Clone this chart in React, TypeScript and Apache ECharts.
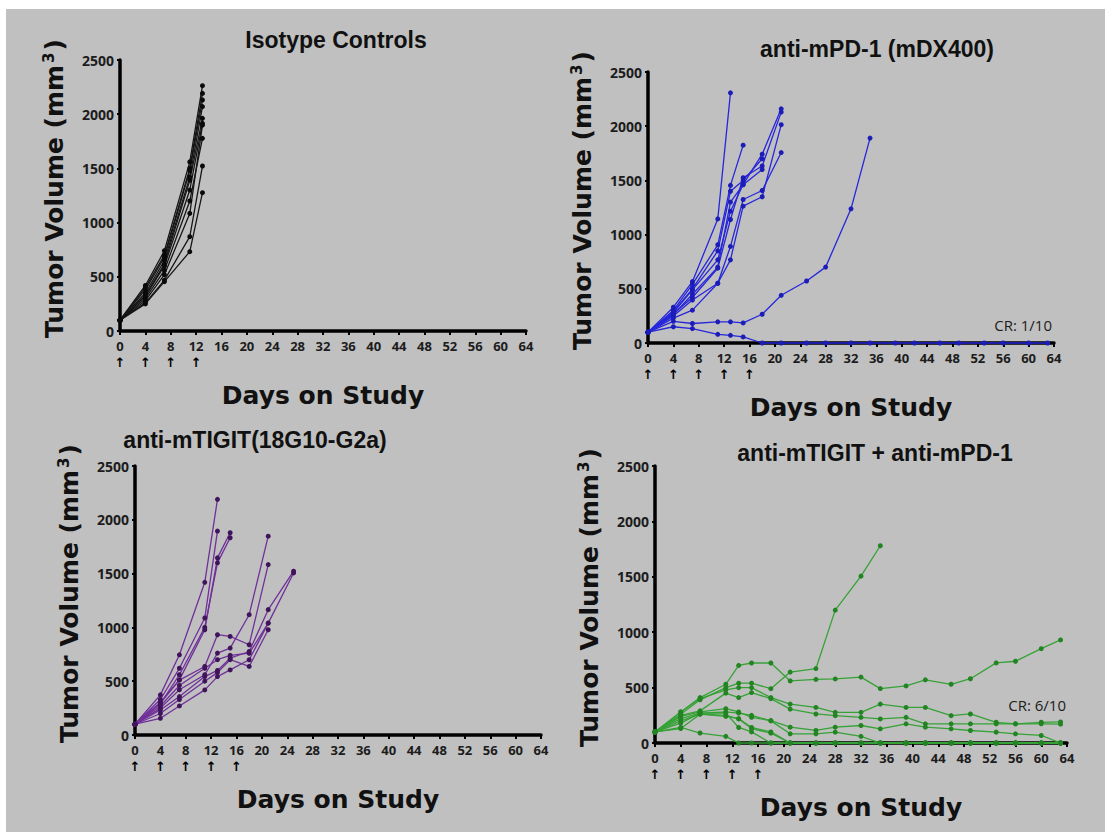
import React, { useEffect, useRef } from "react";
import * as echarts from "echarts";

// ---------- data ----------
const dayTicks = [0, 4, 8, 12, 16, 20, 24, 28, 32, 36, 40, 44, 48, 52, 56, 60, 64];
const volumeTicks = [0, 500, 1000, 1500, 2000, 2500];
const doseDaysIso = [0, 4, 8, 12];
const doseDaysTx = [0, 4, 8, 12, 16];

const isoDays = [0, 4, 7, 11, 13];
const isoMice = [
  [100, 420, 740, 1560, 2263],
  [100, 400, 700, 1500, 2192],
  [100, 380, 680, 1480, 2131],
  [100, 350, 650, 1420, 2070],
  [100, 330, 620, 1390, 1962],
  [100, 320, 600, 1300, 1916],
  [100, 300, 560, 1200, 1777],
  [100, 280, 520, 1085, 1900],
  [100, 260, 470, 870, 1522],
  [100, 250, 455, 732, 1276],
];

const longDays = [0, 4, 7, 11, 13, 15, 18, 21, 25, 28, 32, 35, 39, 42, 46, 49, 53, 56, 60, 63];

const pd1Mice = [
  [100, 330, 566, 1145, 2308],
  [100, 300, 540, 906, 1454, 1825],
  [100, 280, 490, 767, 1216, 1463, 1742, 2160],
  [100, 270, 420, 690, 1139, 1525, 1633, 2130],
  [100, 250, 396, 551, 767, 1262, 1349, 2014],
  [100, 230, 303, 551, 891, 1324, 1407, 1757],
  [100, 290, 500, 850, 1400, 1500, 1700],
  [100, 260, 450, 700, 1300, 1460, 1600],
  [100, 200, 180, 195, 195, 185, 265, 440, 572, 700, 1238, 1890],
  [100, 150, 133, 80, 71, 56, 0, 0, 0, 0, 0, 0, 0, 0, 0, 0, 0, 0, 0, 0],
];

const tigitDays = [0, 4, 7, 11, 13, 15, 18, 21, 25];
const tigitMice = [
  [100, 373, 745, 1419, 2190],
  [100, 330, 620, 1087, 1895],
  [100, 300, 512, 978, 1646, 1880],
  [100, 290, 560, 1000, 1600, 1833],
  [100, 250, 420, 560, 761, 808, 1118, 1848],
  [100, 300, 510, 637, 932, 916, 839, 1584],
  [100, 233, 357, 543, 600, 714, 776, 1165, 1522],
  [100, 155, 270, 419, 543, 605, 699, 1040, 1506],
  [100, 200, 330, 500, 580, 700, 637, 978],
  [100, 270, 460, 620, 700, 740, 760, 1040],
];

const comboMice = [
  [100, 280, 410, 530, 700, 722, 722, 560, 574, 578, 595, 491, 515, 570, 530, 580, 723, 738, 851, 930],
  [100, 260, 390, 500, 540, 540, 490, 640, 672, 1199, 1506, 1780],
  [100, 280, 400, 480, 500, 500, 410, 351, 321, 277, 277, 351, 321, 321, 247, 262, 187, 173, 187, 190],
  [100, 250, 290, 450, 410, 455, 400, 306, 262, 247, 232, 217, 232, 173, 173, 173, 173, 173, 173, 170],
  [100, 240, 280, 310, 280, 232, 202, 143, 113, 143, 158, 128, 173, 143, 128, 113, 98, 83, 68, 0],
  [100, 220, 270, 280, 270, 250, 200, 83, 83, 98, 60, 0, 0, 0, 0, 0, 0, 0, 0, 0],
  [100, 200, 260, 250, 217, 130, 89, 0, 0, 0, 0, 0, 0, 0, 0, 0, 0, 0, 0, 0],
  [100, 180, 270, 270, 140, 100, 0, 0, 0, 0, 0, 0, 0, 0, 0, 0, 0, 0, 0, 0],
  [100, 140, 90, 60, 0, 0, 0, 0, 0, 0, 0, 0, 0, 0, 0, 0, 0, 0, 0, 0],
  [100, 130, 260, 240, 220, 140, 100, 0, 0, 0, 0, 0, 0, 0, 0, 0, 0, 0, 0, 0],
];

const panelTitles = ["Isotype Controls", "anti-mPD-1 (mDX400)", "anti-mTIGIT(18G10-G2a)", "anti-mTIGIT + anti-mPD-1"];
const crLabels = ["", "CR: 1/10", "", "CR: 6/10"];

// ---------- layout / styles ----------
const grids = [
  { left: 120, top: 60, width: 406, height: 271 },
  { left: 648, top: 72, width: 406, height: 271 },
  { left: 135, top: 466, width: 406, height: 269 },
  { left: 655, top: 466, width: 412, height: 277 },
];
const titlePos = [
  [336, 40],
  [877, 49],
  [255, 440],
  [875, 453],
];
const crPos = [null, [1052, 325], null, [1066, 705]];
const colors = [
  { line: "#161616", dot: "#0a0a0a" },
  { line: "#2626dc", dot: "#1c1cb8" },
  { line: "#70309a", dot: "#40145a" },
  { line: "#36a236", dot: "#228422" },
];

function zip(days: number[], vals: number[]) {
  return vals.map((v, i) => [days[i], v]);
}

export default function App() {
  const ref = useRef<HTMLDivElement>(null);
  useEffect(() => {
    if (!ref.current) return;
    const chart = echarts.init(ref.current, undefined, { renderer: "svg" });
    const groups = [
      { days: isoDays, mice: isoMice, doses: doseDaysIso },
      { days: longDays, mice: pd1Mice, doses: doseDaysTx },
      { days: tigitDays, mice: tigitMice, doses: doseDaysTx },
      { days: longDays, mice: comboMice, doses: doseDaysTx },
    ];
    const labelFont = { fontFamily: "Open Sans", fontWeight: "bold" as const, color: "#1c1c1c" };
    const xAxes: any[] = [];
    const yAxes: any[] = [];
    const series: any[] = [];
    groups.forEach((g, i) => {
      xAxes.push({
        type: "value",
        gridIndex: i,
        min: dayTicks[0],
        max: dayTicks[dayTicks.length - 1],
        interval: dayTicks[1] - dayTicks[0],
        name: "Days on Study",
        nameLocation: "middle",
        nameGap: 52,
        nameTextStyle: { fontFamily: "DejaVu Sans", fontWeight: "bold", fontSize: 25, color: "#111" },
        axisLine: { show: true, onZero: false, lineStyle: { color: "#000", width: 3.5 } },
        axisTick: { show: true, length: 4, lineStyle: { color: "#000", width: 2 } },
        axisLabel: { ...labelFont, fontSize: 13, margin: 8, showMinLabel: true, showMaxLabel: true },
        splitLine: { show: false },
      });
      xAxes.push({
        type: "value",
        gridIndex: i,
        min: dayTicks[0],
        max: dayTicks[dayTicks.length - 1],
        interval: dayTicks[1] - dayTicks[0],
        position: "bottom",
        offset: 23,
        axisLine: { show: false },
        axisTick: { show: false },
        splitLine: { show: false },
        axisLabel: {
          fontFamily: "DejaVu Sans",
          fontWeight: "bold",
          fontSize: 13,
          color: "#000",
          margin: 2,
          formatter: (v: number) => (g.doses.includes(v) ? "↑" : ""),
        },
      });
      yAxes.push({
        type: "value",
        gridIndex: i,
        min: volumeTicks[0],
        max: volumeTicks[volumeTicks.length - 1],
        interval: volumeTicks[1] - volumeTicks[0],
        name: "{a|Tumor Volume (mm}{s|3}{a|)}",
        nameLocation: "middle",
        nameGap: 52,
        nameRotate: 90,
        nameTextStyle: {
          padding: [0, 0, 0, 14],
          rich: {
            a: { fontFamily: "DejaVu Sans", fontWeight: "bold", fontSize: 25, color: "#111" },
            s: { fontFamily: "DejaVu Sans", fontWeight: "bold", fontSize: 15, color: "#111", verticalAlign: "top", padding: [0, 2, 12, 2] },
          },
        },
        axisLine: { show: true, lineStyle: { color: "#000", width: 3.5 } },
        axisTick: { show: true, length: 3, lineStyle: { color: "#000", width: 2 } },
        axisLabel: { ...labelFont, fontSize: 14, margin: 6, formatter: (v: number) => String(v) },
        splitLine: { show: false },
      });
      g.mice.forEach((m, k) => {
        series.push({
          type: "line",
          name: `g${i}-m${k}`,
          xAxisIndex: i * 2,
          yAxisIndex: i,
          data: zip(g.days, m),
          symbol: "circle",
          symbolSize: 5,
          showSymbol: true,
          clip: false,
          lineStyle: { color: colors[i].line, width: 1.3 },
          itemStyle: { color: colors[i].dot },
          emphasis: { disabled: true },
        });
      });
    });

    const graphics: any[] = [
      { type: "rect", shape: { x: 6, y: 9, width: 1099, height: 823 }, style: { fill: "#c0c0c0" }, z: -10, silent: true },
    ];
    panelTitles.forEach((t, i) => {
      graphics.push({
        type: "text",
        x: titlePos[i][0],
        y: titlePos[i][1],
        style: {
          text: t,
          font: "bold 23px 'Liberation Sans', Arial, sans-serif",
          fill: "#111",
          textAlign: "center",
          textVerticalAlign: "middle",
        },
      });
    });
    crLabels.forEach((t, i) => {
      const p = crPos[i];
      if (!t || !p) return;
      graphics.push({
        type: "text",
        x: p[0],
        y: p[1],
        style: { text: t, font: "15px 'Open Sans', sans-serif", fill: "#1c1c1c", textAlign: "right", textVerticalAlign: "middle" },
      });
    });

    chart.setOption({
      animation: false,
      backgroundColor: "#ffffff",
      grid: grids.map((g) => ({ ...g, containLabel: false })),
      xAxis: xAxes,
      yAxis: yAxes,
      series,
      graphic: graphics,
    });
    return () => chart.dispose();
  }, []);
  return <div ref={ref} style={{ position: "fixed", left: 0, top: 0, width: 1105, height: 832 }} />;
}
